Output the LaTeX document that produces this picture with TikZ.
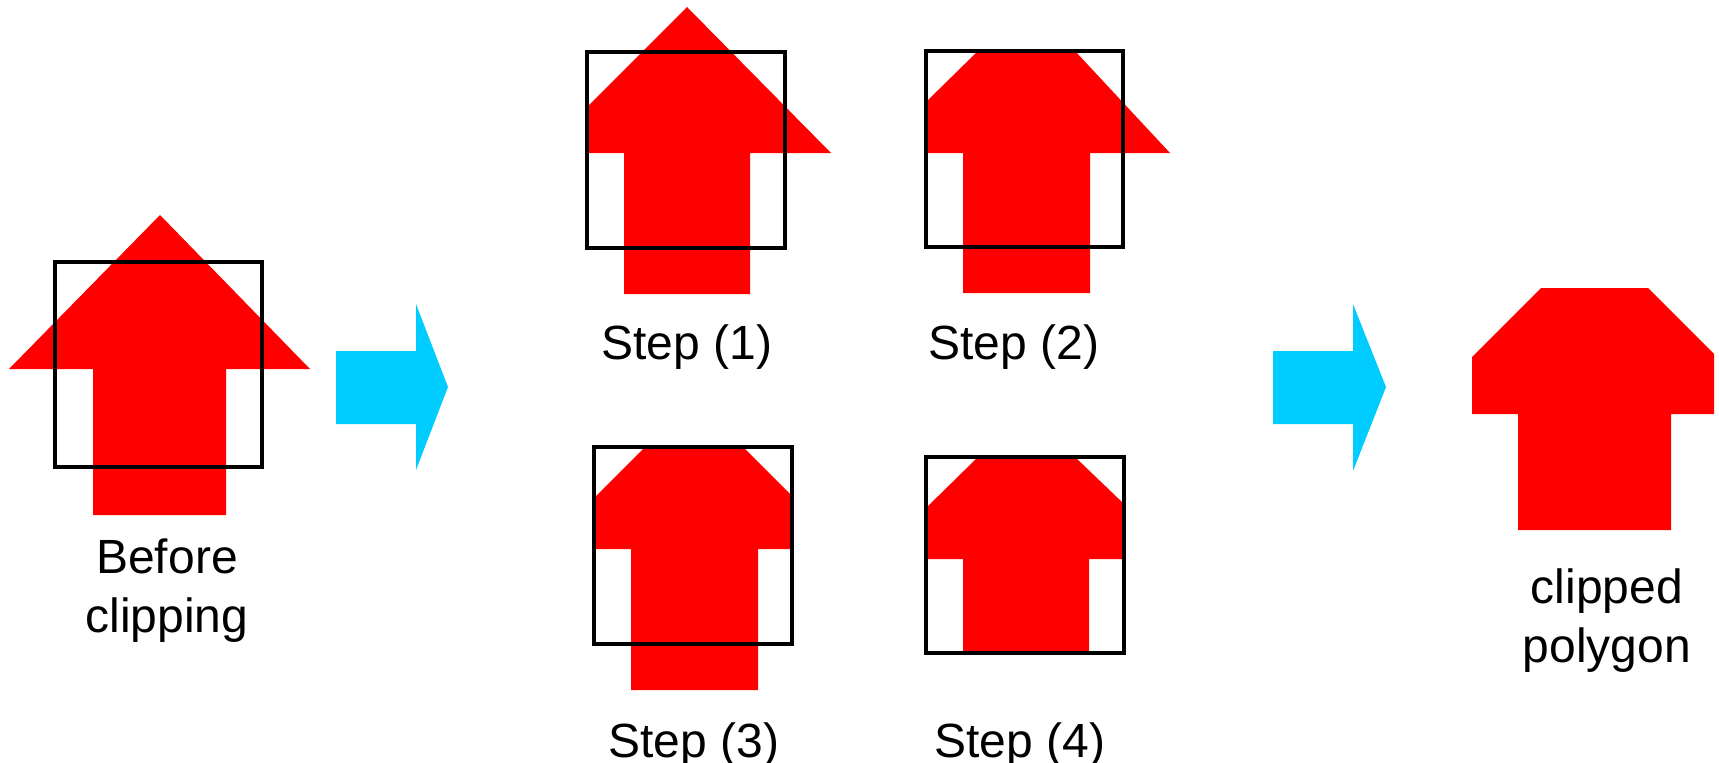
\documentclass[tikz,border=0pt]{standalone}
\usepackage{fontspec}
\setmainfont{Liberation Sans}
\definecolor{arrred}{HTML}{FF0000}
\definecolor{arrblue}{HTML}{00CCFF}
\begin{document}
\begin{tikzpicture}[x=1pt,y=-1pt,
  redpoly/.style={fill=arrred,draw=none},
  clipbox/.style={draw=black,line width=4pt,fill=none},
  bluearrow/.style={fill=arrblue,draw=none},
  lbl/.style={anchor=base,align=center,inner sep=0pt,font=\fontsize{48}{59}\selectfont}]
\useasboundingbox (0,0) rectangle (1719,763);
% Before clipping
\fill[redpoly] (160,215) -- (310,369) -- (226,369) -- (226,515) -- (93,515) -- (93,369) -- (9,369) -- cycle;
\draw[clipbox] (55,262) rectangle (262,467);
\node[lbl] (before) at (167,632) {Before\\clipping};
% blue arrow 1
\fill[bluearrow] (336,351) -- (416,351) -- (416,304) -- (448,387) -- (416,470) -- (416,424) -- (336,424) -- cycle;
% Step 1
\fill[redpoly] (687,7) -- (831,153) -- (750,153) -- (750,294) -- (624,294) -- (624,153) -- (587,153) -- (587,107) -- cycle;
\draw[clipbox] (587,52) rectangle (785,248);
\node[lbl] (s1) at (687,359) {Step (1)};
% Step 2
\fill[redpoly] (978,51) -- (1075,51) -- (1170,153) -- (1090,153) -- (1090,293) -- (963,293) -- (963,153) -- (926,153) -- (926,102) -- cycle;
\draw[clipbox] (926,51) rectangle (1123,247);
\node[lbl] (s2) at (1014,359) {Step (2)};
% Step 3
\fill[redpoly] (645,447) -- (743,447) -- (792,496) -- (792,549) -- (758,549) -- (758,690) -- (631,690) -- (631,549) -- (594,549) -- (594,498) -- cycle;
\draw[clipbox] (594,447) rectangle (792,644);
\node[lbl] (s3) at (694,757) {Step (3)};
% Step 4
\fill[redpoly] (978,457) -- (1075,457) -- (1124,504) -- (1124,559) -- (1089,559) -- (1089,653) -- (963,653) -- (963,559) -- (926,559) -- (926,508) -- cycle;
\draw[clipbox] (926,457) rectangle (1124,653);
\node[lbl] (s4) at (1020,757) {Step (4)};
% blue arrow 2
\fill[bluearrow] (1273,351) -- (1353,351) -- (1353,304) -- (1386,387) -- (1353,471) -- (1353,424) -- (1273,424) -- cycle;
% Final
\fill[redpoly] (1541,288) -- (1648,288) -- (1714,354) -- (1714,414) -- (1671,414) -- (1671,530) -- (1518,530) -- (1518,414) -- (1472,414) -- (1472,357) -- cycle;
\node[lbl] (final) at (1607,662) {clipped\\polygon};
\end{tikzpicture}
\end{document}
